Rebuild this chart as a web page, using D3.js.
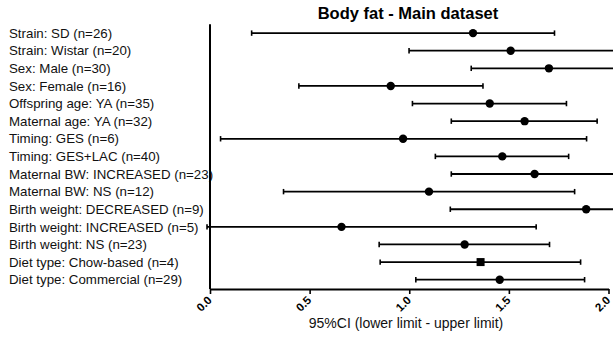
<!DOCTYPE html>
<html><head><meta charset="utf-8">
<script src="https://cdn.jsdelivr.net/npm/d3@7"></script>
<style>body{margin:0;background:#fff}svg{display:block}text{font-family:"Liberation Sans",Arial,sans-serif}</style>
</head><body><svg id="c" width="613" height="338"></svg>
<script>
const categories = ["Strain: SD (n=26)","Strain: Wistar (n=20)","Sex: Male (n=30)","Sex: Female (n=16)","Offspring age: YA (n=35)","Maternal age: YA (n=32)","Timing: GES (n=6)","Timing: GES+LAC (n=40)","Maternal BW: INCREASED (n=23)","Maternal BW: NS (n=12)","Birth weight: DECREASED (n=9)","Birth weight: INCREASED (n=5)","Birth weight: NS (n=23)","Diet type: Chow-based (n=4)","Diet type: Commercial (n=29)"];
const lower = [0.209,0.999,1.311,0.446,1.016,1.211,0.053,1.131,1.211,0.369,1.206,-0.015,0.849,0.854,1.033];
const mean  = [1.320,1.509,1.701,0.907,1.404,1.579,0.969,1.467,1.629,1.099,1.888,0.660,1.278,1.358,1.454];
const upper = [1.729,2.300,2.300,1.370,1.789,1.943,1.890,1.800,2.300,1.830,2.300,1.637,1.704,1.860,1.880];
const markerShape = ["circle","circle","circle","circle","circle","circle","circle","circle","circle","circle","circle","circle","circle","square","circle"];
const xTicks = [0.0,0.5,1.0,1.5,2.0];

const svg = d3.select("#c");
const x = d3.scaleLinear().domain([0,2]).range([210,608.5]);
const y = d3.scaleBand().domain(categories).range([24.3,288.5]);
const yc = d => y(d) + y.bandwidth()/2;

// title
svg.append("text").attr("x",408).attr("y",19).attr("text-anchor","middle")
  .style("font-weight","bold").style("font-size","16.5px").attr("fill","#000").text("Body fat - Main dataset");

// category labels
svg.append("g").selectAll("text").data(categories).join("text")
  .attr("x",9).attr("y",d=>yc(d)).attr("dy","0.35em")
  .style("font-size","13.3px").attr("fill","#111").text(d=>d);

// error bars
const g = svg.append("g");
categories.forEach((c,i)=>{
  const yy = yc(c);
  g.append("line").attr("x1",x(lower[i])).attr("x2",x(upper[i])).attr("y1",yy).attr("y2",yy)
    .attr("stroke","#000").attr("stroke-width",1.8);
  [lower[i],upper[i]].forEach(v=>{
    g.append("line").attr("x1",x(v)).attr("x2",x(v)).attr("y1",yy-2.7).attr("y2",yy+2.7)
      .attr("stroke","#000").attr("stroke-width",1.6);
  });
  if(markerShape[i]==="square"){
    g.append("rect").attr("x",x(mean[i])-4).attr("y",yy-4).attr("width",8).attr("height",8).attr("fill","#000");
  } else {
    g.append("circle").attr("cx",x(mean[i])).attr("cy",yy).attr("r",4.2).attr("fill","#000");
  }
});

// y axis line
svg.append("line").attr("x1",210).attr("x2",210).attr("y1",24.3).attr("y2",289)
  .attr("stroke","#000").attr("stroke-width",2);

// x axis
const xa = svg.append("g").attr("transform","translate(0,289)")
  .call(d3.axisBottom(x).tickValues(xTicks).tickFormat(d3.format(".1f")).tickSize(5).tickSizeOuter(0));
xa.select(".domain").attr("stroke","#000").attr("stroke-width",2);
xa.selectAll(".tick line").attr("stroke","#000").attr("stroke-width",1.6);
xa.selectAll(".tick text").attr("text-anchor","end").attr("dy",0).attr("y",0)
  .attr("transform","translate(2,12) rotate(-45)")
  .style("font-size","11.5px").style("font-weight","bold").attr("fill","#000")
  .style("font-family","\"Liberation Sans\",Arial,sans-serif");

svg.append("text").attr("x",406).attr("y",328).attr("text-anchor","middle")
  .style("font-size","14px").attr("fill","#111").text("95%CI (lower limit - upper limit)");
</script></body></html>
